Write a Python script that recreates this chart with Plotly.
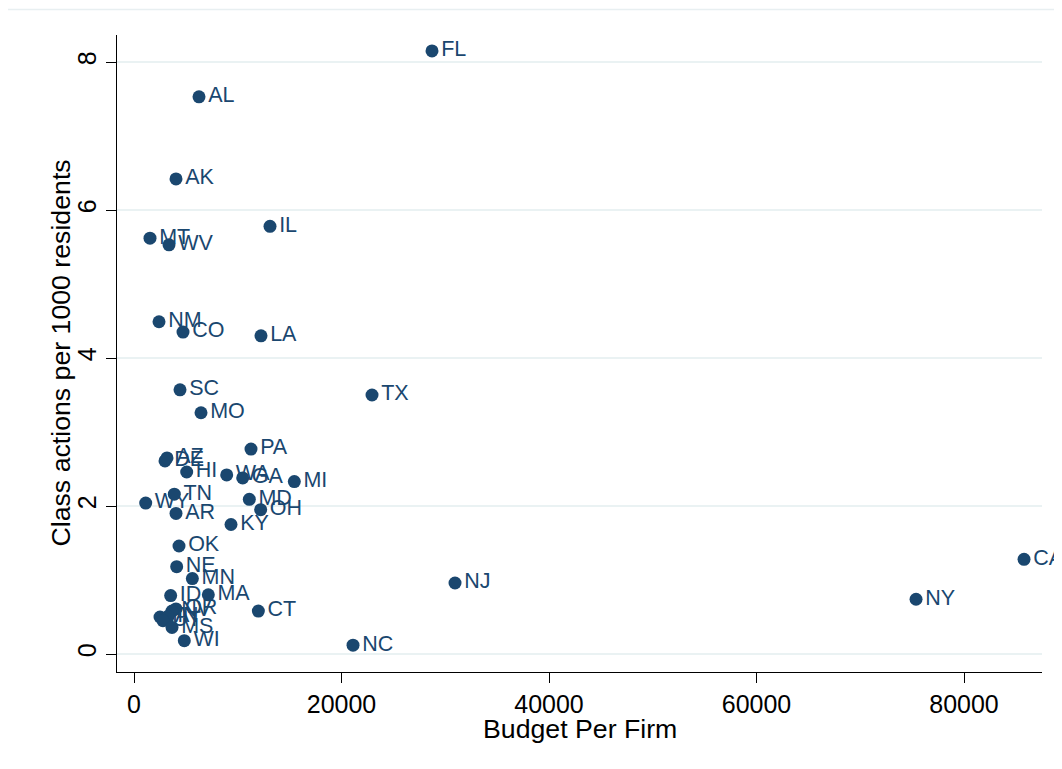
import plotly.graph_objects as go

states = ["FL", "AL", "AK", "IL", "MT", "WV", "NM", "CO", "LA", "SC", "MO", "TX",
          "PA", "DE", "AZ", "HI", "WA", "GA", "MI", "TN", "WY", "MD", "AR", "OH",
          "KY", "OK", "NE", "MN", "ID", "MA", "CT", "NC", "NJ", "CA", "NY", "WI",
          "OR", "NV", "IA", "IN", "UT", "MS"]
budget = [28724, 6265, 4048, 13109, 1542, 3374, 2410, 4723, 12241, 4434, 6458, 22941,
          11278, 2988, 3181, 5078, 8935, 10477, 15452, 3885, 1128, 11115, 4048, 12209,
          9350, 4338, 4113, 5624, 3534, 7163, 11985, 21110, 30941, 85787, 75377, 4848,
          4048, 3663, 2506, 3277, 2795, 3663]
class_actions = [8.15, 7.53, 6.42, 5.78, 5.62, 5.53, 4.49, 4.35, 4.30, 3.57, 3.26, 3.50,
                 2.77, 2.61, 2.65, 2.46, 2.42, 2.38, 2.33, 2.16, 2.04, 2.09, 1.90, 1.95,
                 1.75, 1.46, 1.18, 1.02, 0.79, 0.80, 0.58, 0.12, 0.96, 1.28, 0.74, 0.18,
                 0.61, 0.58, 0.50, 0.51, 0.45, 0.36]

x_ticks = [0, 20000, 40000, 60000, 80000]
y_ticks = [0, 2, 4, 6, 8]

navy = "#1a476f"
font = "Liberation Sans, Arial, Helvetica, sans-serif"

fig = go.Figure()
fig.add_trace(go.Scatter(
    x=budget, y=class_actions, text=states,
    mode="markers+text", textposition="middle right",
    marker=dict(color=navy, size=13, line=dict(width=0)),
    textfont=dict(color=navy, size=21.5, family=font),
    cliponaxis=False, showlegend=False, hoverinfo="skip",
))

fig.update_layout(
    width=1062, height=769,
    margin=dict(l=109, r=28, t=27, b=105),
    paper_bgcolor="white", plot_bgcolor="white",
    font=dict(family=font, color="black"),
    xaxis=dict(
        range=[-1639, 87518], tickvals=x_ticks, ticktext=[str(v) for v in x_ticks],
        showgrid=False, zeroline=False, showline=True, linecolor="black", linewidth=1,
        ticks="outside", ticklen=10, tickcolor="black", tickwidth=1,
        tickfont=dict(size=25, family=font), automargin=False,
    ),
    yaxis=dict(
        range=[-0.243, 8.365], tickvals=y_ticks, ticktext=[str(v) for v in y_ticks],
        showgrid=True, gridcolor="#eaf2f3", gridwidth=1.5,
        zeroline=False, showline=True, linecolor="black", linewidth=1,
        ticks="outside", ticklen=10, tickcolor="black", tickwidth=1,
        tickangle=-90, tickfont=dict(size=25, family=font), automargin=False,
    ),
    annotations=[
        dict(text="Budget Per Firm", xref="paper", yref="paper", x=0.5, y=-0.0895,
             xanchor="center", yanchor="middle", showarrow=False,
             font=dict(size=26.7, family=font, color="black")),
        dict(text="Class actions per 1000 residents", xref="paper", yref="paper",
             x=-0.0616, y=0.5, xanchor="center", yanchor="middle", textangle=-90,
             showarrow=False, font=dict(size=26.7, family=font, color="black")),
    ],
    shapes=[dict(type="line", xref="paper", yref="paper", x0=-0.118, x1=1.03, y0=1.040, y1=1.040,
                 line=dict(color="#e8eff1", width=1.5))],
)

fig.write_html("out.html")
